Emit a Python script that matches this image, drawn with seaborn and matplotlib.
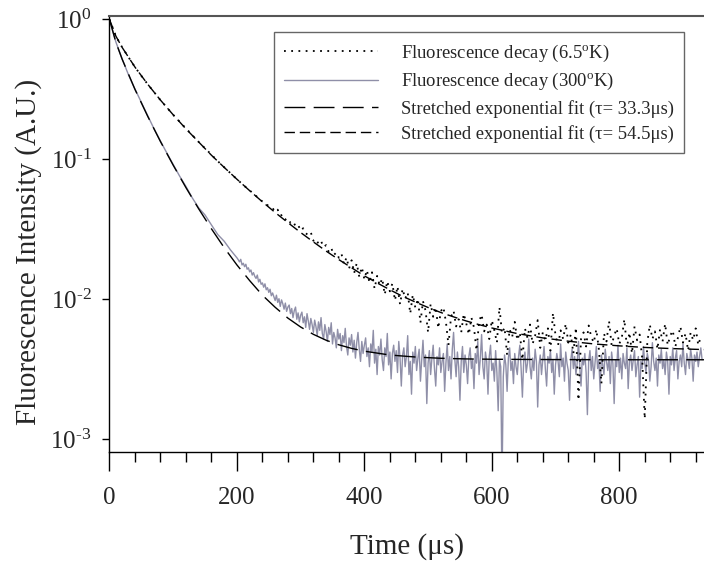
import numpy as np
import pandas as pd
import seaborn as sns
import matplotlib.pyplot as plt
from matplotlib.ticker import MultipleLocator, LogLocator, NullLocator, FuncFormatter

# ---- data ----
# 300 K decay: smooth head every 10 us, noisy tail every 2 us (202..930)
t300_head = [0, 10, 20, 30, 40, 50, 60, 70, 80, 90, 100, 110, 120, 130, 140,
             150, 160, 170, 180, 190, 200]
i300_head = [1.0, 0.69, 0.52, 0.40, 0.318, 0.255, 0.205, 0.165, 0.135, 0.111,
             0.092, 0.076, 0.064, 0.053, 0.045, 0.040, 0.034, 0.029, 0.026,
             0.0225, 0.0198]
i300_tail = [
    0.0192, 0.0185, 0.0193, 0.0176, 0.0181, 0.0171, 0.0178, 0.0164, 0.0168, 0.0157,
    0.0162, 0.0149, 0.0155, 0.0146, 0.0141, 0.0149, 0.0133, 0.0139, 0.0128, 0.0131,
    0.0122, 0.0129, 0.0117, 0.0121, 0.0112, 0.0118, 0.0106, 0.0111, 0.0104, 0.0098,
    0.0107, 0.0095, 0.0101, 0.0089, 0.0099, 0.0093, 0.0085, 0.0094, 0.0082, 0.0088,
    0.0091, 0.0079, 0.0086, 0.0074, 0.0083, 0.0088, 0.0072, 0.0080, 0.0069, 0.0077,
    0.0081, 0.0068, 0.0075, 0.0063, 0.0079, 0.0070, 0.0061, 0.0073, 0.0066, 0.0058,
    0.0071, 0.0064, 0.0055, 0.0069, 0.0060, 0.0074, 0.0057, 0.0052, 0.0066, 0.0059,
    0.0050, 0.0063, 0.0056, 0.0068, 0.0048, 0.0058, 0.0053, 0.0045, 0.0061, 0.0052,
    0.0057, 0.0043, 0.0055, 0.0049, 0.0062, 0.0046, 0.0040, 0.0053, 0.0047, 0.0056,
    0.0042, 0.0051, 0.0038, 0.0049, 0.0058, 0.0044, 0.0036, 0.0050, 0.0041, 0.0047,
    0.0053, 0.0039, 0.0045, 0.0033, 0.0048, 0.0042, 0.0060, 0.0035, 0.0044, 0.0029,
    0.0046, 0.0040, 0.0052, 0.0037, 0.0031, 0.0045, 0.0039, 0.0057, 0.0034, 0.0042,
    0.0027, 0.0041, 0.0047, 0.0036, 0.0043, 0.0030, 0.0050, 0.0038, 0.0024, 0.0040,
    0.0045, 0.0033, 0.0039, 0.0055, 0.0029, 0.0036, 0.0021, 0.0042, 0.0035, 0.0046,
    0.0031, 0.0038, 0.0044, 0.0026, 0.0037, 0.0051, 0.0033, 0.0040, 0.0018, 0.0035,
    0.0043, 0.0029, 0.0038, 0.0047, 0.0032, 0.0024, 0.0039, 0.0034, 0.0045, 0.0030,
    0.0036, 0.0041, 0.0022, 0.0035, 0.0048, 0.0031, 0.0039, 0.0027, 0.0044, 0.0058,
    0.0037, 0.0028, 0.0042, 0.0033, 0.0019, 0.0036, 0.0046, 0.0030, 0.0040, 0.0034,
    0.0025, 0.0039, 0.0045, 0.0032, 0.0037, 0.0023, 0.0041, 0.0035, 0.0050, 0.0029,
    0.0038, 0.0056, 0.0033, 0.0027, 0.0042, 0.0036, 0.0021, 0.0039, 0.0047, 0.0031,
    0.0035, 0.0026, 0.0043, 0.0030, 0.0016, 0.0037, 0.0033, 0.00045, 0.0028, 0.0040,
    0.0034, 0.0022, 0.0038, 0.0045, 0.0031, 0.0036, 0.0025, 0.0041, 0.0033, 0.0029,
    0.0039, 0.0047, 0.0032, 0.0020, 0.0036, 0.0042, 0.0030, 0.0035, 0.0052, 0.0033,
    0.0027, 0.0038, 0.0031, 0.0044, 0.0036, 0.0017, 0.0034, 0.0040, 0.0029, 0.0037,
    0.0046, 0.0032, 0.0024, 0.0039, 0.0035, 0.0043, 0.0030, 0.0037, 0.0021, 0.0034,
    0.0041, 0.0036, 0.0028, 0.0048, 0.0033, 0.0038, 0.0026, 0.0042, 0.0035, 0.0031,
    0.0019, 0.0037, 0.0044, 0.0032, 0.0039, 0.0029, 0.0035, 0.0050, 0.0033, 0.0024,
    0.0038, 0.0034, 0.0041, 0.0030, 0.0015, 0.0036, 0.0043, 0.0031, 0.0039, 0.0027,
    0.0035, 0.0046, 0.0032, 0.0037, 0.0022, 0.0040, 0.0034, 0.0029, 0.0044, 0.0036,
    0.0031, 0.0039, 0.0025, 0.0042, 0.0035, 0.0018, 0.0037, 0.0033, 0.0047, 0.0030,
    0.0038, 0.0027, 0.0041, 0.0035, 0.0032, 0.0045, 0.0023, 0.0036, 0.0040, 0.0031,
    0.0037, 0.0043, 0.0028, 0.0034, 0.0039, 0.0020, 0.0036, 0.0032, 0.0046, 0.0035,
    0.0030, 0.0041, 0.0037, 0.0026, 0.0033, 0.0049, 0.0036, 0.0031, 0.0038, 0.0024,
    0.0040, 0.0035, 0.0044, 0.0032, 0.0037, 0.0029, 0.0042, 0.0036, 0.0021, 0.0039,
    0.0034, 0.0045, 0.0031, 0.0038, 0.0043, 0.0027, 0.0036, 0.0040, 0.0033, 0.0048,
    0.0035, 0.0029, 0.0041, 0.0037, 0.0032, 0.0044, 0.0038, 0.0026, 0.0040, 0.0036,
    0.0042, 0.0033, 0.0039, 0.0045, 0.0037]

# 6.5 K decay: smooth head every 10 us, noisy tail every 4 us (244..928)
t65_head = [0, 10, 20, 30, 40, 50, 60, 70, 80, 90, 100, 110, 120, 130, 140,
            150, 160, 170, 180, 190, 200, 210, 220, 230, 240]
i65_head = [1.0, 0.76, 0.63, 0.535, 0.456, 0.395, 0.344, 0.302, 0.265, 0.235,
            0.208, 0.186, 0.166, 0.149, 0.133, 0.120, 0.108, 0.097, 0.0878,
            0.0795, 0.0722, 0.0655, 0.0600, 0.0548, 0.0500]
i65_tail = [
    0.0492, 0.0470, 0.0463, 0.0448, 0.0421, 0.0437, 0.0396, 0.0402, 0.0371, 0.0379,
    0.0352, 0.0361, 0.0333, 0.0341, 0.0309, 0.0322, 0.0296, 0.0288, 0.0301, 0.0262,
    0.0270, 0.0249, 0.0261, 0.0236, 0.0244, 0.0219, 0.0233, 0.0207, 0.0216, 0.0198,
    0.0212, 0.0178, 0.0199, 0.0166, 0.0190, 0.0154, 0.0181, 0.0145, 0.0170, 0.0139,
    0.0162, 0.0131, 0.0156, 0.0119, 0.0147, 0.0126, 0.0141, 0.0108, 0.0135, 0.0114,
    0.0130, 0.0098, 0.0124, 0.0092, 0.0119, 0.0101, 0.0112, 0.0079, 0.0108, 0.0087,
    0.0101, 0.0068, 0.0097, 0.0083, 0.0058, 0.0093, 0.0075, 0.0088, 0.0062, 0.0082,
    0.0088, 0.0069, 0.0047, 0.0075, 0.0083, 0.0064, 0.0072, 0.0058, 0.0079, 0.0067,
    0.0056, 0.0074, 0.0063, 0.0043, 0.0069, 0.0078, 0.0059, 0.0066, 0.0052, 0.0071,
    0.0060, 0.0049, 0.0088, 0.0057, 0.0063, 0.0040, 0.0061, 0.0054, 0.0069, 0.0051,
    0.0058, 0.0037, 0.0062, 0.0053, 0.0066, 0.0048, 0.0055, 0.0071, 0.0045, 0.0058,
    0.0051, 0.0062, 0.0043, 0.0080, 0.0055, 0.0047, 0.0060, 0.0052, 0.0067, 0.0049,
    0.0056, 0.0041, 0.0063, 0.0019, 0.0052, 0.0058, 0.0046, 0.0065, 0.0054, 0.0049,
    0.0061, 0.0044, 0.0025, 0.0057, 0.0050, 0.0070, 0.0047, 0.0055, 0.0062, 0.0048,
    0.0053, 0.0072, 0.0045, 0.0058, 0.0041, 0.0064, 0.0051, 0.0056, 0.0038, 0.0014,
    0.0049, 0.0066, 0.0052, 0.0059, 0.0044, 0.0061, 0.0050, 0.0067, 0.0047, 0.0055,
    0.0060, 0.0046, 0.0053, 0.0064, 0.0049, 0.0057, 0.0043, 0.0058, 0.0051, 0.0062,
    0.0047, 0.0054]

# stretched exponential fits
t_fit1 = [0, 10, 20, 40, 60, 80, 100, 120, 140, 160, 180, 200, 220, 240, 260,
          280, 300, 320, 340, 360, 380, 400, 440, 480, 520, 560, 600, 700, 800, 935]
i_fit1 = [1.0, 0.687, 0.518, 0.316, 0.203, 0.134, 0.0908, 0.0628, 0.0443,
          0.0319, 0.0234, 0.0176, 0.0136, 0.0107, 0.00877, 0.00734, 0.00634,
          0.00562, 0.0051, 0.00473, 0.00446, 0.00426, 0.0040, 0.00387, 0.00379,
          0.00375, 0.00373, 0.00371, 0.0037, 0.0037]
t_fit2 = [0, 10, 20, 40, 60, 80, 100, 120, 140, 160, 180, 200, 220, 240, 260,
          280, 300, 320, 340, 360, 380, 400, 420, 440, 460, 480, 500, 520, 540,
          560, 580, 600, 640, 680, 720, 760, 800, 840, 880, 935]
i_fit2 = [1.0, 0.760, 0.629, 0.456, 0.344, 0.265, 0.208, 0.165, 0.133, 0.107,
          0.0876, 0.0721, 0.0597, 0.0497, 0.0417, 0.0353, 0.0300, 0.0257, 0.0221,
          0.0192, 0.0168, 0.0147, 0.0131, 0.0117, 0.0105, 0.00956, 0.00874,
          0.00805, 0.00749, 0.0070, 0.00659, 0.00624, 0.00569, 0.0053, 0.00502,
          0.0048, 0.00465, 0.00453, 0.00445, 0.00437]

labels = ["Fluorescence decay (6.5$^{\\mathrm{o}}$K)",
          "Fluorescence decay (300$^{\\mathrm{o}}$K)",
          "Stretched exponential fit (τ= 33.3μs)",
          "Stretched exponential fit (τ= 54.5μs)"]

t300 = np.concatenate([t300_head, np.linspace(202, 930, len(i300_tail))])
i300 = np.array(i300_head + i300_tail)
t65 = np.concatenate([t65_head, np.linspace(244, 928, len(i65_tail))])
i65 = np.array(i65_head + i65_tail)

# ---- style ----
sns.set_style("ticks")
plt.rcParams['font.family'] = ['Liberation Serif', 'DejaVu Serif']
plt.rcParams['mathtext.fontset'] = 'custom'
plt.rcParams['mathtext.rm'] = 'Liberation Serif'
plt.rcParams['mathtext.it'] = 'Liberation Serif:italic'
plt.rcParams['axes.unicode_minus'] = False

fig = plt.figure(figsize=(7.04, 5.63), dpi=100)
ax = fig.add_axes([0.1555, 0.1966, 0.8445, 0.7750])

sns.lineplot(x=t300, y=i300, ax=ax, color='#8f8fa8', lw=1.0, sort=False, estimator=None)
l300 = ax.lines[-1]
sns.lineplot(x=t65, y=i65, ax=ax, color='black', lw=1.3, sort=False, estimator=None)
l65 = ax.lines[-1]
l65.set_dashes((1, 3))
sns.lineplot(x=t_fit1, y=i_fit1, ax=ax, color='black', lw=1.0, sort=False, estimator=None)
lf1 = ax.lines[-1]
lf1.set_dashes((15, 6))
sns.lineplot(x=t_fit2, y=i_fit2, ax=ax, color='black', lw=1.0, sort=False, estimator=None)
lf2 = ax.lines[-1]
lf2.set_dashes((7.5, 3.5))

ax.set_yscale('log')
ax.set_ylim(8.07e-4, 1.057)
ax.set_xlim(0, 933)
ax.yaxis.set_major_locator(LogLocator(base=10, numticks=10))
ax.yaxis.set_minor_locator(NullLocator())
ax.yaxis.set_major_formatter(FuncFormatter(
    lambda v, p: r"$\mathdefault{10^{\text{%d}}}$" % round(np.log10(v))))
ax.xaxis.set_major_locator(MultipleLocator(200))
ax.xaxis.set_minor_locator(MultipleLocator(40))

ax.tick_params(axis='x', which='major', length=14, width=1.0, direction='out',
               labelsize=18, pad=11, color='black')
ax.tick_params(axis='x', which='minor', length=7, width=1.0, direction='out', color='black')
ax.tick_params(axis='y', which='major', length=5, width=1.0, direction='out',
               labelsize=18, pad=8, color='black')

for s in ['left', 'bottom']:
    ax.spines[s].set_color('black')
    ax.spines[s].set_linewidth(1.0)
ax.spines['top'].set_color('#555555')
ax.spines['top'].set_linewidth(1.5)
ax.spines['right'].set_visible(False)

ax.set_xlabel("Time (μs)", fontsize=21, labelpad=17)
ax.set_ylabel("Fluorescence Intensity (A.U.)", fontsize=21)
ax.yaxis.set_label_coords(-0.113, 0.46)

leg = ax.legend([l65, l300, lf1, lf2], labels, loc='upper right',
                bbox_to_anchor=(0.9716, 0.9426), bbox_transform=fig.transFigure,
                fontsize=13.4, frameon=True, fancybox=False, framealpha=1,
                edgecolor='#666666', handlelength=5.0, handletextpad=1.25,
                labelspacing=0.4, borderpad=0.55, borderaxespad=0)
leg.get_frame().set_linewidth(1.0)

fig.savefig("out.png", dpi=100)
